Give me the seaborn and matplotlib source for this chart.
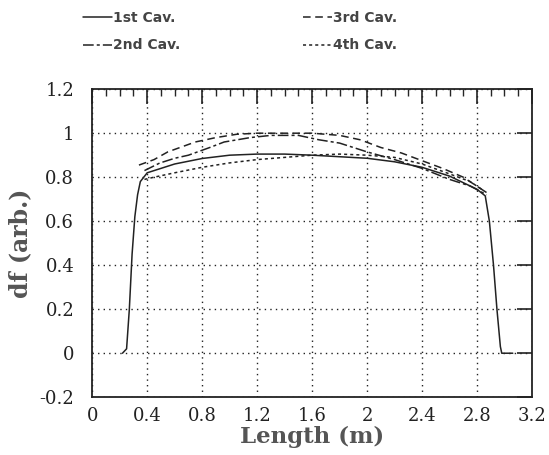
import numpy as np
import pandas as pd
import matplotlib
matplotlib.use("Agg")
import matplotlib.pyplot as plt
from matplotlib.ticker import MultipleLocator, FuncFormatter
import seaborn as sns

# field flatness per cavity
x_1st = [0.22, 0.25, 0.27, 0.29, 0.31, 0.33, 0.35, 0.4, 0.6, 0.8, 1.0, 1.2, 1.4, 1.6, 1.8, 2.0,
         2.2, 2.4, 2.6, 2.7, 2.8, 2.86, 2.89, 2.92, 2.945, 2.97, 2.98, 3.06]
y_1st = [0.0, 0.02, 0.2, 0.45, 0.62, 0.72, 0.78, 0.82, 0.86, 0.885, 0.9, 0.905, 0.905, 0.9, 0.893, 0.886,
         0.87, 0.845, 0.805, 0.775, 0.745, 0.715, 0.6, 0.4, 0.2, 0.03, 0.0, 0.0]

x_2nd = [0.38, 0.49, 0.6, 0.7, 0.86, 0.96, 1.15, 1.3, 1.5, 1.65, 1.8, 2.0, 2.2, 2.4, 2.6, 2.75, 2.87]
y_2nd = [0.83, 0.864, 0.886, 0.9, 0.936, 0.96, 0.98, 0.99, 0.99, 0.97, 0.955, 0.915, 0.88, 0.84, 0.79, 0.76, 0.72]

x_3rd = [0.34, 0.45, 0.55, 0.75, 0.9, 1.05, 1.2, 1.4, 1.6, 1.8, 1.95, 2.1, 2.25, 2.4, 2.55, 2.7, 2.87]
y_3rd = [0.855, 0.88, 0.915, 0.96, 0.98, 0.995, 1.0, 1.0, 1.0, 0.99, 0.97, 0.935, 0.91, 0.875, 0.84, 0.8, 0.73]

x_4th = [0.38, 0.45, 0.6, 0.8, 1.0, 1.2, 1.4, 1.6, 1.8, 2.0, 2.2, 2.4, 2.6, 2.75, 2.87]
y_4th = [0.79, 0.8, 0.82, 0.845, 0.865, 0.88, 0.89, 0.9, 0.905, 0.9, 0.89, 0.86, 0.815, 0.78, 0.73]

labels = ["1st Cav.", "2nd Cav.", "3rd Cav.", "4th Cav."]

frames = []
for lab, xs, ys in zip(labels, [x_1st, x_2nd, x_3rd, x_4th], [y_1st, y_2nd, y_3rd, y_4th]):
    frames.append(pd.DataFrame({"Length": xs, "df": ys, "Cavity": lab}))
df = pd.concat(frames, ignore_index=True)

sns.set_theme(style="white")
plt.rcParams["font.family"] = ["DejaVu Serif"]

fig = plt.figure(figsize=(5.49, 4.55), dpi=100)
ax = fig.add_axes([0.168, 0.127, 0.801, 0.677])

dash_map = {"1st Cav.": "", "2nd Cav.": (7, 2, 2, 2), "3rd Cav.": (5, 3), "4th Cav.": (2, 2)}
sns.lineplot(data=df, x="Length", y="df", hue="Cavity", style="Cavity",
             palette=["#222222"] * 4, dashes=dash_map, linewidth=1.1,
             sort=False, estimator=None, legend=True, ax=ax)

ax.set_xlim(0, 3.2)
ax.set_ylim(-0.2, 1.2)
ax.xaxis.set_major_locator(MultipleLocator(0.4))
ax.xaxis.set_minor_locator(MultipleLocator(0.1))
ax.yaxis.set_major_locator(MultipleLocator(0.2))
fmt = FuncFormatter(lambda v, p: "%g" % round(v, 2))
ax.xaxis.set_major_formatter(fmt)
ax.yaxis.set_major_formatter(fmt)
ax.tick_params(which="major", direction="in", length=11, width=1.2, top=True, right=True,
               labelsize=13, colors="#222222")
ax.tick_params(axis="x", which="major", pad=7)
ax.tick_params(axis="y", which="major", pad=13)
ax.tick_params(which="minor", direction="in", length=5, width=1.0, top=True, right=False)
ax.tick_params(axis="y", which="minor", length=0)
ax.grid(True, which="major", linestyle=(0, (1, 3)), color="#222222", linewidth=1.0)
for s in ax.spines.values():
    s.set_color("#222222")
    s.set_linewidth(1.3)

ax.set_xlabel("Length (m)", fontsize=16.5, fontweight="bold", color="#555555", labelpad=1)
ax.set_ylabel("df (arb.)", fontsize=17, fontweight="bold", color="#555555", labelpad=5)

handles, labs = ax.get_legend_handles_labels()
ax.get_legend().remove()
fig.legend(handles, labs, loc="upper left", bbox_to_anchor=(0.138, 0.992), ncol=2,
           frameon=False, borderpad=0, columnspacing=8.8, handlelength=2.1, handletextpad=0.1,
           labelspacing=1.0, labelcolor="#444444",
           prop={"family": "DejaVu Sans", "weight": "bold", "size": 10})

fig.savefig("out.png", dpi=100)
